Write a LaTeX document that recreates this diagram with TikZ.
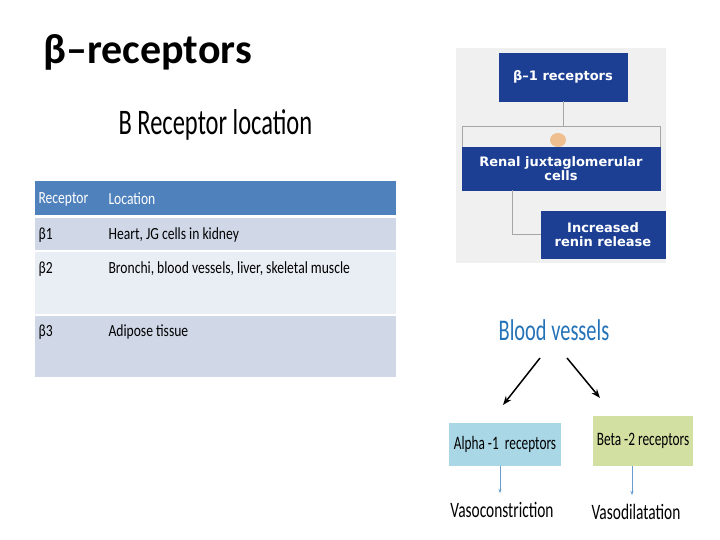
\documentclass[tikz,border=0pt]{standalone}
\usepackage{fontspec}
\setmainfont{Carlito}
\newfontfamily\verd{DejaVu Sans}
\usetikzlibrary{arrows.meta}
\definecolor{hdr}{HTML}{4F81BD}
\definecolor{rowa}{HTML}{D0D8E8}
\definecolor{rowb}{HTML}{E9EDF4}
\definecolor{navy}{HTML}{1C3F94}
\definecolor{bv}{HTML}{2473B8}
\definecolor{lb}{HTML}{A9D7E6}
\definecolor{lg}{HTML}{D2E0A2}
\begin{document}
\begin{tikzpicture}[x=1pt,y=-1pt,
 nb/.style={draw=navy,fill=navy,text=white,font=\verd\fontsize{13}{14}\selectfont\bfseries,align=center,inner sep=1pt},
 cell/.style={anchor=west,font=\fontsize{17}{18}\selectfont\addfontfeature{FakeStretch=0.8}},
 cb/.style={draw=none,text=black,align=center,font=\fontsize{19}{20}\selectfont\addfontfeature{FakeStretch=0.7}}]
\useasboundingbox (0,0) rectangle (720,540);
\node[anchor=west,font=\fontsize{42}{44}\selectfont\bfseries] (title) at (40,52) {β–receptors};
\node[anchor=west,font=\fontsize{36}{38}\selectfont\addfontfeature{FakeStretch=0.68}] (sub) at (115,125) {B Receptor location};
% table
\fill[hdr] (35,181) rectangle (396,215);
\fill[rowa] (35,218) rectangle (396,250);
\fill[rowb] (35,252) rectangle (396,314);
\fill[rowa] (35,316) rectangle (396,377);
\node[cell,text=white] (h1) at (35,199) {Receptor};
\node[cell,text=white] (h2) at (105,199) {Location};
\node[cell] (r1a) at (35,235) {β1};
\node[cell] (r1b) at (105,235) {Heart, JG cells in kidney};
\node[cell] (r2a) at (35,269) {β2};
\node[cell] (r2b) at (105,269) {Bronchi, blood vessels, liver, skeletal muscle};
\node[cell] (r3a) at (35,332) {β3};
\node[cell] (r3b) at (105,332) {Adipose tissue};
% right panel
\fill[gray!12] (456,48) rectangle (666,263);
\node[nb,minimum width=128,minimum height=48] (b1) at (563,77) {β–1 receptors};
\draw[gray!70,line width=1pt] (462,127) rectangle (660,190);
\node[nb,minimum width=198,minimum height=43] (b2) at (561,168.5) {Renal juxtaglomerular\\cells};
\node[nb,minimum width=124,minimum height=47] (b3) at (603,234.5) {Increased\\renin release};
\draw[gray!70,line width=1pt] (b1.south) -- (563,127);
\draw[gray!70,line width=1pt] (512,190) |- (b3.west);
\fill[orange!50!brown!50] (558,140) ellipse (8 and 7);
% blood vessels
\node[font=\fontsize{30}{31}\selectfont\addfontfeature{FakeStretch=0.68},text=bv] (bvn) at (554,330) {Blood vessels};
\node[cb,fill=lb,minimum width=112,minimum height=43] (al) at (505,444.5) {Alpha -1\, receptors};
\node[cb,fill=lg,minimum width=100,minimum height=50] (be) at (643,441) {Beta -2 receptors};
\draw[-{Stealth[length=9pt]},line width=1.5pt] (540,358) -- (503,405);
\draw[-{Stealth[length=9pt]},line width=1.5pt] (567,358) -- (600,398);
\node[cb,font=\fontsize{22}{23}\selectfont\addfontfeature{FakeStretch=0.7}] (vc) at (502,510) {Vasoconstriction};
\node[cb,font=\fontsize{22}{23}\selectfont\addfontfeature{FakeStretch=0.7}] (vd) at (636,512) {Vasodilatation};
\draw[-{Stealth[length=4pt]},bv!70] (al.south -| 500,0) -- (500,493);
\draw[-{Stealth[length=4pt]},bv!70] (be.south -| 632,0) -- (632,495);
\end{tikzpicture}
\end{document}
